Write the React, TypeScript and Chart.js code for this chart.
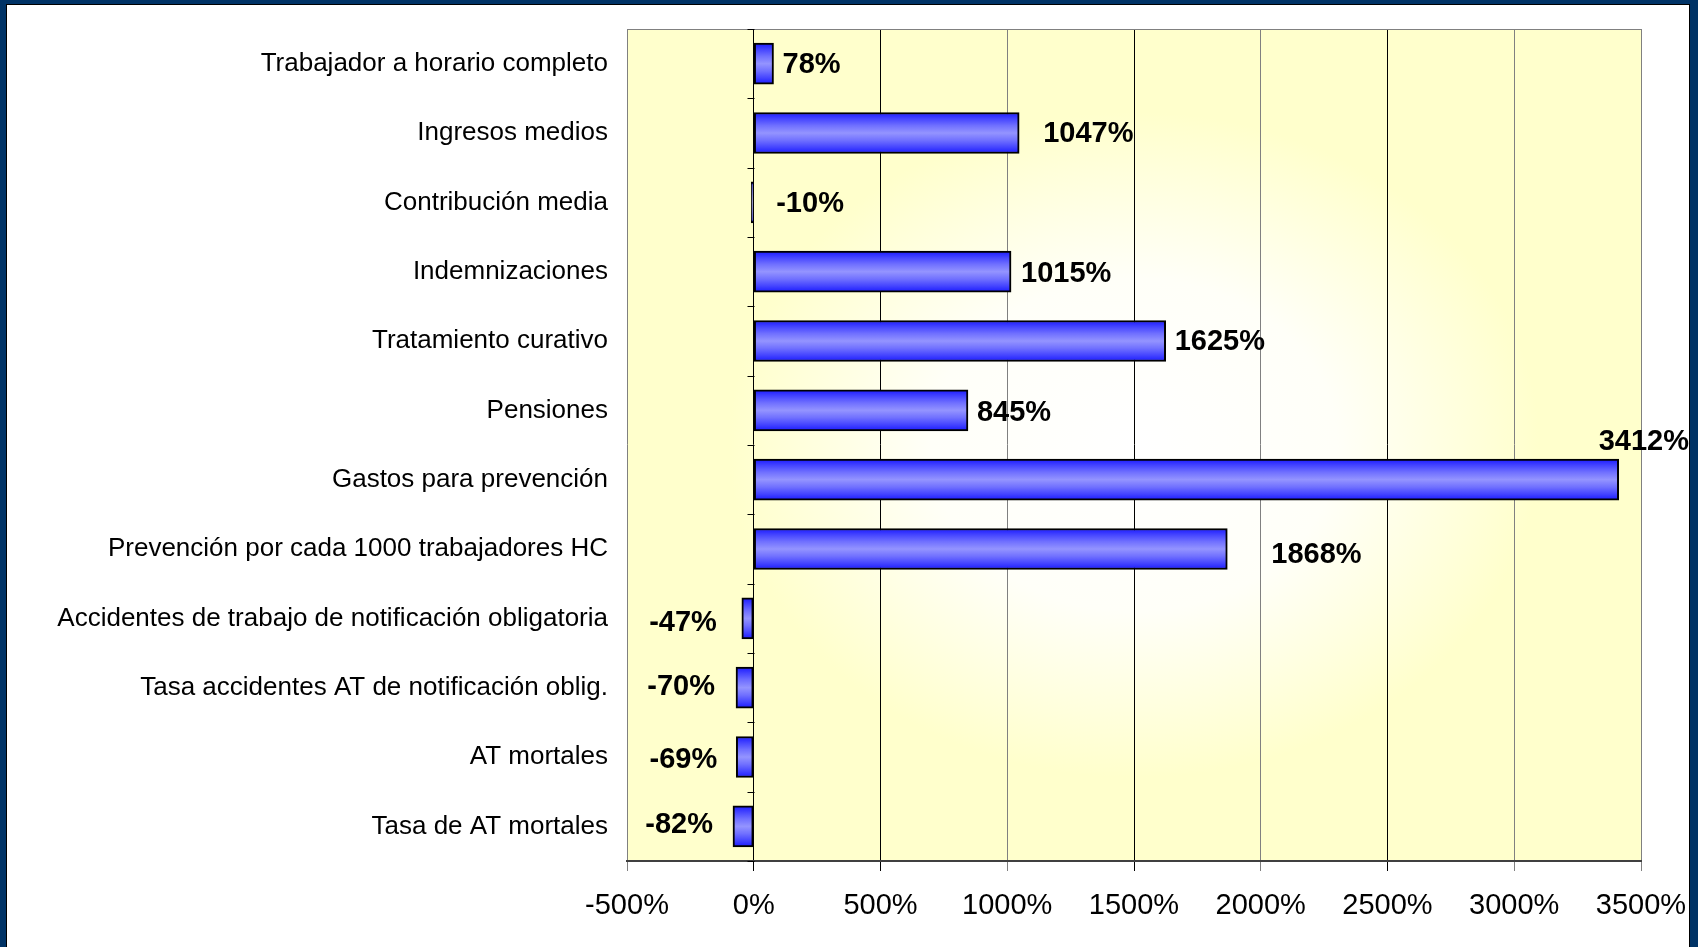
import React, { useEffect, useRef } from "react";
import { Chart, registerables } from "chart.js";

Chart.register(...registerables);

const CATEGORIES = [
  "Trabajador a horario completo",
  "Ingresos medios",
  "Contribución media",
  "Indemnizaciones",
  "Tratamiento curativo",
  "Pensiones",
  "Gastos para prevención",
  "Prevención por cada 1000 trabajadores HC",
  "Accidentes de trabajo de notificación obligatoria",
  "Tasa accidentes AT de notificación oblig.",
  "AT mortales",
  "Tasa de AT mortales",
];

const VALUES = [78, 1047, -10, 1015, 1625, 845, 3412, 1868, -47, -70, -69, -82];

const X_TICKS = [-500, 0, 500, 1000, 1500, 2000, 2500, 3000, 3500];

// label placement (style only): side of text anchored to bar end, pixel offsets
const LABEL_ALIGN = ["left", "left", "left", "left", "left", "left", "left", "left", "right", "right", "right", "right"];
const LABEL_DX = [9, 24, 25, 10, 9, 9, -20, 44, -25, -21, -19, -20];
const LABEL_DY = [-1, -1.5, -1, 0, -1, 0, -40, 4, 2, -3, 1, -4];

const FONT = '"Liberation Sans", Arial, Helvetica, sans-serif';
const BAR_THICK = 41;

const gridColor = (v: number) => {
  if (v === 0) return "#000000";
  if (v === X_TICKS[0] || v === X_TICKS[X_TICKS.length - 1]) return "#808080";
  return Math.abs(v / 500) % 2 === 1 ? "#000000" : "#808080";
};

const bgPlugin = {
  id: "bgPlugin",
  beforeDraw(chart: any) {
    const { ctx, chartArea } = chart;
    if (!chartArea) return;
    const { left, top, right, bottom } = chartArea;
    const cx = (left + right) / 2;
    const cy = (top + bottom) / 2;
    const rx = (right - left) / 2;
    const ry = (bottom - top) / 2;
    ctx.save();
    ctx.fillStyle = "#FFFFCC";
    ctx.fillRect(left, top, right - left, bottom - top);
    ctx.beginPath();
    ctx.rect(left, top, right - left, bottom - top);
    ctx.clip();
    ctx.translate(cx, cy);
    ctx.scale(rx, ry);
    const g = ctx.createRadialGradient(0, 0, 0, 0, 0, 1);
    g.addColorStop(0, "#FFFFFF");
    g.addColorStop(0.4, "#FFFFF8");
    g.addColorStop(0.8, "#FFFFCC");
    g.addColorStop(1, "#FFFFCC");
    ctx.fillStyle = g;
    ctx.fillRect(-1.5, -1.5, 3, 3);
    ctx.restore();
  },
};

const decoPlugin = {
  id: "decoPlugin",
  afterDatasetsDraw(chart: any) {
    const { ctx, chartArea, scales } = chart;
    const xs = scales.x;
    const ys = scales.y;
    const { left, top, right, bottom } = chartArea;
    ctx.save();
    // top border of plot
    ctx.strokeStyle = "#808080";
    ctx.lineWidth = 1;
    ctx.beginPath();
    ctx.moveTo(left, top + 0.5);
    ctx.lineTo(right, top + 0.5);
    ctx.stroke();
    // category tick marks at zero line
    const x0 = Math.round(xs.getPixelForValue(0)) + 0.5;
    ctx.strokeStyle = "#000000";
    const n = CATEGORIES.length;
    for (let i = 0; i <= n; i++) {
      const y = Math.round(top + ((bottom - top) * i) / n) + 0.5;
      ctx.beginPath();
      ctx.moveTo(x0 - 7, y);
      ctx.lineTo(x0, y);
      ctx.stroke();
    }
    // value labels
    const fs = 29;
    ctx.font = `bold ${fs}px ${FONT}`;
    ctx.fillStyle = "#000000";
    ctx.textBaseline = "alphabetic";
    VALUES.forEach((v, i) => {
      const endX = xs.getPixelForValue(v);
      const yc = ys.getPixelForValue(i);
      ctx.textAlign = LABEL_ALIGN[i];
      const x = endX + LABEL_DX[i];
      const y = yc + LABEL_DY[i] + 0.358 * fs;
      ctx.fillText(`${v}%`, x, y);
    });
    ctx.restore();
  },
};

export default function App() {
  const ref = useRef<HTMLCanvasElement>(null);
  useEffect(() => {
    if (!ref.current) return;
    const chart = new Chart(ref.current, {
      type: "bar",
      data: {
        labels: CATEGORIES,
        datasets: [
          {
            data: VALUES,
            barThickness: BAR_THICK,
            borderColor: "#000000",
            borderWidth: 2,
            borderSkipped: false,
            backgroundColor: (c: any) => {
              const ch = c.chart;
              const ys = ch.scales && ch.scales.y;
              if (!ys || c.type !== "data") return "#7777FF";
              const yc = ys.getPixelForValue(c.dataIndex);
              if (!Number.isFinite(yc)) return "#7777FF";
              const h = BAR_THICK / 2;
              const g = ch.ctx.createLinearGradient(0, yc - h, 0, yc + h);
              g.addColorStop(0, "#1A1AFF");
              g.addColorStop(0.15, "#4444FF");
              g.addColorStop(0.32, "#7070FF");
              g.addColorStop(0.5, "#9494FF");
              g.addColorStop(0.68, "#7070FF");
              g.addColorStop(0.85, "#4444FF");
              g.addColorStop(1, "#1A1AFF");
              return g;
            },
          },
        ],
      },
      options: {
        indexAxis: "y",
        responsive: false,
        animation: false,
        layout: { padding: { top: 24, right: 48, left: 0, bottom: 0 } },
        plugins: {
          legend: { display: false },
          tooltip: { enabled: false },
        },
        scales: {
          x: {
            type: "linear",
            min: X_TICKS[0],
            max: X_TICKS[X_TICKS.length - 1],
            afterBuildTicks: (s: any) => {
              s.ticks = X_TICKS.map((v) => ({ value: v }));
            },
            afterFit: (s: any) => {
              s.height = 86;
              s.paddingLeft = 0;
              s.paddingRight = 0;
              s.paddingTop = 0;
              s.paddingBottom = 0;
            },
            grid: {
              color: (c: any) => gridColor(c.tick ? c.tick.value : 0),
              tickColor: (c: any) => gridColor(c.tick ? c.tick.value : 0),
              lineWidth: 1,
              tickLength: 10,
              drawTicks: true,
            },
            border: { display: true, color: "#404040", width: 2 },
            ticks: {
              color: "#000000",
              font: { family: FONT, size: 29 },
              padding: 18,
              maxRotation: 0,
              autoSkip: false,
              callback: (v: any) => `${v}%`,
            },
          },
          y: {
            type: "category",
            afterFit: (s: any) => {
              s.width = 620;
              s.paddingLeft = 0;
              s.paddingRight = 0;
              s.paddingTop = 0;
              s.paddingBottom = 0;
            },
            grid: { display: false, drawTicks: false },
            border: { display: false },
            ticks: {
              color: "#000000",
              font: { family: FONT, size: 26 },
              padding: 19,
              autoSkip: false,
            },
          },
        },
      },
      plugins: [bgPlugin, decoPlugin],
    } as any);
    return () => chart.destroy();
  }, []);

  return (
    <div style={{ position: "fixed", left: 0, top: 0, width: 1698, height: 947, background: "#003366", overflow: "hidden" }}>
      <div
        style={{
          position: "absolute",
          left: 6,
          top: 4,
          width: 1684,
          height: 943,
          background: "#FFFFFF",
          borderTop: "1px solid #000",
          borderLeft: "1px solid #000",
          borderRight: "1px solid #000",
          boxSizing: "border-box",
        }}
      >
        <canvas ref={ref} width={1682} height={942} style={{ display: "block" }} />
      </div>
    </div>
  );
}
